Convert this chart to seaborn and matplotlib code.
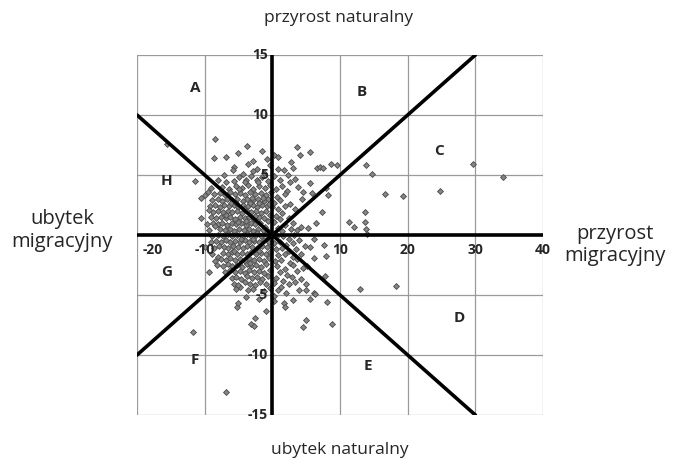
import matplotlib
matplotlib.use('Agg')
import matplotlib.pyplot as plt
import seaborn as sns
import pandas as pd

# saldo migracji (x) i przyrost naturalny (y), promile
core_pts = [
    (-8.5, 8.0), (-5.0, 6.8), (-3.7, 7.4), (-1.5, 7.0), (0.2, 6.7), (0.9, 6.5), (3.7, 7.3), (4.1, 6.7),
    (5.6, 6.9), (-6.9, 6.5), (-8.6, 6.4), (-2.8, 6.2), (2.7, 6.1), (-0.8, 6.3),
    (-5.7, 5.7), (-5.8, 5.4), (-3.6, 5.9), (-2.2, 5.5), (-1.2, 5.2), (-4.4, 5.1), (-0.3, 5.8), (1.7, 5.4),
    (2.3, 5.0), (6.6, 5.6), (7.0, 5.7), (7.5, 5.6), (8.7, 5.9), (9.5, 5.8), (-7.2, 5.0), (0.8, 5.5),
    (-2.9, 5.3), (3.1, 5.6),
    (-6.9, 4.4), (-4.9, 4.8), (-3.9, 4.6), (-3.1, 4.9), (-2.3, 4.6), (-1.6, 4.8), (-0.7, 4.5),
    (0.3, 4.9), (1.2, 4.6), (2.6, 4.4), (-5.6, 4.5), (-8.1, 4.6), (5.5, 4.3), (3.3, 4.7),
    (-9.0, 3.9), (-7.5, 4.0), (-6.4, 3.8), (-5.3, 4.1), (-4.5, 3.9), (-3.6, 4.2), (-2.8, 3.8), (-2.0, 4.1),
    (-1.1, 3.9), (-0.4, 4.2), (0.6, 3.8), (1.5, 4.1), (2.2, 3.7), (7.9, 3.9), (3.8, 4.0),
    (-10.5, 3.1), (-9.9, 3.3), (-9.5, 3.6), (-8.6, 3.4), (-7.8, 3.5), (-7.0, 3.3), (-6.2, 3.6), (-5.5, 3.4),
    (-4.8, 3.5), (-4.0, 3.3), (-3.3, 3.6), (-2.5, 3.4), (-1.7, 3.5), (-0.9, 3.3), (-0.2, 3.6), (0.7, 3.2),
    (1.8, 3.4), (4.6, 3.6), (4.4, 3.0), (5.9, 3.5), (8.3, 3.3),
    (-8.9, 2.9), (-8.1, 3.0), (-7.4, 2.8), (-6.7, 3.0), (-6.0, 2.9), (-5.2, 3.0), (-4.4, 2.8), (-3.7, 3.0),
    (-2.9, 2.9), (-2.1, 3.0), (-1.3, 2.8), (-0.6, 3.0), (0.3, 2.7), (1.2, 2.9), (2.6, 2.6), (3.4, 2.2),
    (-9.2, 2.4), (-8.5, 2.5), (-7.8, 2.3), (-7.1, 2.5), (-6.4, 2.4), (-5.7, 2.5), (-5.0, 2.3), (-4.3, 2.5),
    (-3.6, 2.4), (-2.9, 2.5), (-2.2, 2.3), (-1.5, 2.5), (-0.8, 2.4), (0.0, 2.3), (0.9, 2.2), (1.9, 2.4),
    (-9.4, 2.1), (-8.7, 1.9), (-8.0, 2.0), (-7.3, 1.9), (-6.6, 2.0), (-5.9, 1.9), (-5.2, 2.0), (-4.5, 1.8),
    (-3.8, 2.0), (-3.1, 1.9), (-2.4, 2.0), (-1.7, 1.8), (-1.0, 2.0), (-0.3, 1.7), (0.6, 1.6), (1.5, 1.8),
    (7.3, 1.9),
    (-10.6, 1.4), (-9.0, 1.5), (-8.3, 1.4), (-7.6, 1.5), (-6.9, 1.4), (-6.2, 1.5), (-5.5, 1.3), (-4.8, 1.5),
    (-4.1, 1.4), (-3.4, 1.5), (-2.7, 1.3), (-2.0, 1.5), (-1.3, 1.4), (-0.6, 1.2), (0.3, 1.1), (1.2, 1.3),
    (2.4, 1.4), (3.1, 1.0),
    (-9.7, 0.9), (-8.8, 1.0), (-8.1, 0.9), (-7.4, 1.0), (-6.7, 0.8), (-6.0, 1.0), (-5.3, 0.9), (-4.6, 1.0),
    (-3.9, 0.8), (-3.2, 1.0), (-2.5, 0.9), (-1.8, 1.0), (-1.1, 0.7), (0.9, 0.6), (1.8, 0.8), (2.7, 0.5),
    (6.4, 1.0),
    (-8.4, 0.75), (-9.3, 0.4), (-7.7, 0.5), (-7.0, 0.4), (-6.3, 0.5), (-5.6, 0.3), (-4.9, 0.5), (-4.2, 0.4),
    (-3.5, 0.5), (-2.8, 0.3), (-2.1, 0.5), (-1.4, 0.4), (-0.7, 0.3), (0.4, 0.2), (1.4, 0.3), (3.6, 0.4),
    (4.3, 0.7), (5.2, 0.6),
    (-8.9, -0.1), (-8.0, 0.0), (-7.3, -0.1), (-6.6, 0.1), (-5.9, -0.1), (-5.2, 0.0), (-4.5, -0.1), (-3.8, 0.1),
    (-3.1, -0.1), (-2.4, 0.0), (-1.7, -0.1), (-1.0, 0.1), (0.6, -0.2), (1.6, -0.1), (2.5, -0.3), (3.2, 0.0),
    (4.0, -0.4), (6.1, -0.3),
    (-9.1, -0.6), (-8.3, -0.5), (-7.6, -0.6), (-6.9, -0.4), (-6.2, -0.6), (-5.5, -0.5), (-4.8, -0.6),
    (-4.1, -0.4), (-3.4, -0.6), (-2.7, -0.5), (-2.0, -0.6), (-1.2, -0.4), (-0.5, -0.6), (0.3, -0.7),
    (1.1, -0.6), (2.0, -0.8), (3.0, -0.7), (4.9, -0.9), (5.6, -1.0), (7.6, -0.8),
    (-9.9, -1.0), (-8.6, -1.1), (-7.9, -0.9), (-7.2, -1.0), (-6.5, -1.1), (-5.8, -0.9), (-5.1, -1.0),
    (-4.4, -1.1), (-3.7, -0.9), (-3.0, -1.0), (-2.3, -1.1), (-1.6, -0.9), (-0.8, -1.0), (0.5, -1.2),
    (1.5, -1.1), (2.4, -1.3), (3.5, -1.2),
    (-8.0, -1.8), (-8.9, -1.6), (-7.3, -1.5), (-6.6, -1.6), (-5.9, -1.4), (-5.2, -1.6), (-4.5, -1.5),
    (-3.8, -1.6), (-3.1, -1.4), (-2.4, -1.6), (-1.7, -1.5), (-1.0, -1.6), (-0.3, -1.4), (0.8, -1.7),
    (1.9, -1.6), (3.0, -1.8), (4.2, -1.6), (6.1, -1.9), (8.0, -1.75),
    (-8.5, -2.2), (-7.6, -2.0), (-6.9, -2.1), (-6.2, -1.9), (-5.5, -2.1), (-4.8, -2.0), (-4.1, -2.2),
    (-3.4, -1.9), (-2.7, -2.1), (-2.0, -2.0), (-1.3, -2.2), (-0.5, -1.9), (0.4, -2.2), (1.3, -2.1),
    (2.6, -2.3), (3.7, -2.0),
    (-8.2, -2.5), (-7.3, -2.6), (-6.6, -2.4), (-5.9, -2.6), (-5.2, -2.5), (-4.5, -2.7), (-3.8, -2.4),
    (-3.1, -2.6), (-2.4, -2.5), (-1.7, -2.7), (-0.9, -2.4), (0.7, -2.6), (1.8, -2.8), (3.0, -2.5),
    (4.6, -2.75), (5.1, -2.6),
    (-9.4, -3.1), (-7.0, -3.1), (-6.2, -2.9), (-5.5, -3.1), (-4.8, -3.0), (-4.1, -3.2), (-3.4, -2.9),
    (-2.7, -3.1), (-2.0, -3.0), (-1.2, -3.2), (-0.4, -2.9), (1.1, -3.1), (2.2, -3.3), (3.6, -3.0),
    (7.8, -3.4),
    (-6.0, -3.6), (-5.3, -3.5), (-4.6, -3.7), (-3.8, -3.4), (-3.0, -3.6), (-2.2, -3.5), (-1.5, -3.7),
    (-0.7, -3.4), (0.6, -3.6), (1.6, -3.8), (2.9, -3.5), (4.2, -3.7),
    (-5.7, -4.1), (-4.8, -4.3), (-4.0, -3.9), (-3.3, -4.1), (-2.5, -4.2), (-1.8, -3.9), (-0.9, -4.1),
    (0.3, -4.0), (1.3, -4.3), (2.5, -4.1), (3.4, -3.9), (5.0, -4.1),
    (-5.3, -4.5), (-5.1, -4.2), (-3.6, -4.6), (-2.8, -4.5), (-1.3, -4.7), (-0.4, -4.4), (0.9, -4.6),
    (2.0, -4.8), (4.0, -4.6), (5.0, -4.6), (6.1, -4.8), (6.3, -4.9),
    # gęstsze jądro chmury
    (-4.2, 2.2), (-3.3, 2.7), (-2.6, 1.6), (-1.9, 2.7), (-5.1, 1.1), (-3.9, 1.2), (-2.2, 0.2),
    (-6.1, 2.7), (-4.9, 3.8), (-3.0, 3.1), (-1.4, 3.1), (-0.5, 2.6), (-6.8, 1.7), (-5.4, 2.7),
    (-2.9, -0.3), (-4.6, -0.3), (-3.3, -2.3), (-1.9, -1.3), (-5.6, -1.3), (-2.1, 4.4), (-4.1, 4.4),
]

outer_pts = [
    (-15.5, 7.6), (-11.5, 4.5), (13.8, 5.8), (14.7, 5.1), (16.7, 3.4), (19.3, 3.25), (24.8, 3.7),
    (29.7, 5.9), (34.1, 4.8), (13.7, 1.9), (13.7, 1.05), (11.4, 1.05), (12.0, 0.7), (13.8, 0.5),
    (14.0, 0.1), (13.0, -4.5), (18.3, -4.25),
    (0.2, -5.1), (0.2, -5.5), (1.7, -5.7), (1.9, -6.0), (-5.2, -6.0), (-5.1, -5.7), (-2.5, -6.9),
    (-3.1, -7.4), (-2.7, -7.6), (5.6, -5.3), (8.1, -5.6), (5.0, -7.1), (4.6, -7.7), (8.8, -7.4),
    (-6.9, -13.1), (-11.7, -8.1), (-2.0, -5.3), (-3.9, -5.2), (3.0, -5.4), (-1.0, -6.3),
]

region_labels = ['A', 'B', 'C', 'D', 'E', 'F', 'G', 'H']
label_x = [-11.4, 13.2, 24.6, 27.6, 14.1, -11.4, -15.6, -15.6]
label_y = [12.25, 11.9, 7.0, -6.9, -10.9, -10.4, -3.1, 4.5]

x_ticks = [-20, -10, 10, 20, 30, 40]
y_ticks = [15, 10, 5, -5, -10, -15]

df = pd.DataFrame(core_pts + outer_pts, columns=['migracja', 'naturalny'])

sns.set_style('white')
plt.rcParams['font.family'] = ['Open Sans', 'DejaVu Sans']

fig = plt.figure(figsize=(6.75, 4.65), dpi=100)
ax = fig.add_axes([137 / 675, 1 - 415 / 465, 406 / 675, 360 / 465])

# siatka
for gx in range(-20, 41, 10):
    ax.axvline(gx, color='#9a9a9a', lw=0.9, zorder=0)
for gy in range(-15, 16, 5):
    ax.axhline(gy, color='#9a9a9a', lw=0.9, zorder=0)

sns.scatterplot(data=df, x='migracja', y='naturalny', marker='D', s=9,
                color='#858585', edgecolor='#4a4a4a', linewidth=0.6, ax=ax, zorder=3, clip_on=False)

# osie i przekątne
ax.plot([0, 0], [-15, 15], color='black', lw=2.6, zorder=4, solid_capstyle='butt')
ax.plot([-20, 40], [0, 0], color='black', lw=2.6, zorder=4, solid_capstyle='butt')
ax.plot([-20, 30], [-10, 15], color='black', lw=2.6, zorder=4)
ax.plot([-20, 30], [10, -15], color='black', lw=2.6, zorder=4)

ax.set_xlim(-20, 40)
ax.set_ylim(-15, 15)
ax.set_xticks([])
ax.set_yticks([])
ax.set_xlabel('')
ax.set_ylabel('')
for sp in ax.spines.values():
    sp.set_visible(False)

for t in x_ticks:
    ha = 'left' if t == -20 else 'center'
    dx = 4 if t == -20 else 0
    ax.annotate(str(t), (t, 0), xytext=(dx, -11), textcoords='offset points', ha=ha, va='center',
                fontsize=10, fontweight='bold', zorder=5)
for t in y_ticks:
    ax.annotate(str(t), (0, t), xytext=(-3, 0), textcoords='offset points', ha='right', va='center',
                fontsize=10, fontweight='bold', zorder=5, annotation_clip=False)

for lab, lx, ly in zip(region_labels, label_x, label_y):
    ax.text(lx, ly, lab, ha='center', va='center', fontsize=11, fontweight='bold')

fig.text(339 / 675, 1 - 18 / 465, 'przyrost naturalny', ha='center', va='center', fontsize=12.5)
fig.text(340 / 675, 1 - 450 / 465, 'ubytek naturalny', ha='center', va='center', fontsize=12.5)
fig.text(62 / 675, 1 - 230 / 465, 'ubytek\nmigracyjny', ha='center', va='center', fontsize=14.5,
         linespacing=1.2)
fig.text(615 / 675, 1 - 245 / 465, 'przyrost\nmigracyjny', ha='center', va='center', fontsize=14.5,
         linespacing=1.2)

fig.savefig('out.png', dpi=100)
